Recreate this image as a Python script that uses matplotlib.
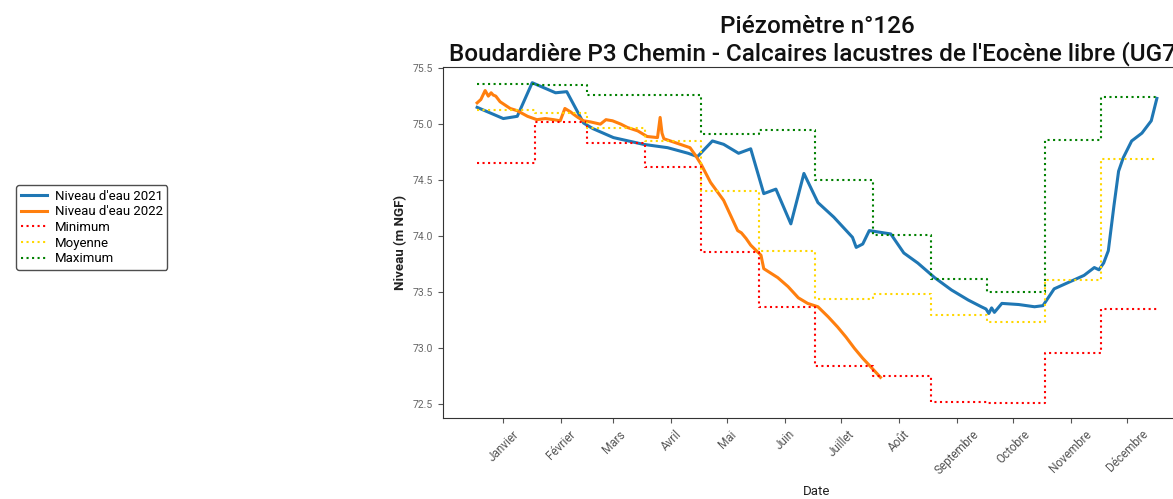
import numpy as np
import pandas as pd
import matplotlib
matplotlib.use("Agg")
import matplotlib.pyplot as plt

# ---------------- data ----------------
months = ["Janvier", "Février", "Mars", "Avril", "Mai", "Juin", "Juillet",
          "Août", "Septembre", "Octobre", "Novembre", "Décembre"]

# 2021 water level (day of year, value)
days_2021 = [0, 14, 21.5, 29.5, 42, 48, 57, 62, 73, 89, 102, 113, 118, 126, 132,
             140, 146.5, 153.5, 160, 168, 175, 182.5, 191, 201, 203, 206.5, 210,
             221.5, 228.5, 236, 245, 254, 263, 270, 272.5, 274, 275.5, 277, 281,
             290, 298.5, 303, 309, 317, 325, 330.5, 333, 335.5, 338, 341, 343.5,
             346, 350.5, 356, 361, 364]
level_2021 = [75.15, 75.05, 75.07, 75.37, 75.28, 75.29, 75.01, 74.96, 74.88,
              74.82, 74.79, 74.74, 74.71, 74.85, 74.82, 74.74, 74.78, 74.38,
              74.42, 74.11, 74.56, 74.30, 74.17, 73.99, 73.90, 73.93, 74.05,
              74.02, 73.85, 73.76, 73.63, 73.52, 73.43, 73.37, 73.35, 73.31,
              73.36, 73.32, 73.40, 73.39, 73.37, 73.38, 73.53, 73.59, 73.65,
              73.72, 73.70, 73.76, 73.87, 74.27, 74.58, 74.70, 74.85, 74.92,
              75.03, 75.23]

# 2022 water level (day of year, value)
days_2022 = [0, 2, 4.3, 6, 7.5, 8.6, 10, 12.3, 15, 17.7, 21.5, 27, 32, 36.5, 41,
             44.5, 47, 50, 51.5, 54, 57, 60.7, 66, 69, 72.5, 77, 80.5, 86, 91,
             96.6, 98, 99, 100, 107, 114, 117, 120, 125, 132, 139.5, 141.5, 144,
             146.5, 152, 153.5, 161, 166.5, 172, 177, 182.5, 188, 193, 197.5,
             202, 206.5, 211, 216]
level_2022 = [75.19, 75.22, 75.30, 75.25, 75.28, 75.26, 75.25, 75.20, 75.17,
              75.14, 75.12, 75.07, 75.04, 75.05, 75.04, 75.03, 75.14, 75.11,
              75.09, 75.06, 75.03, 75.02, 75.00, 75.04, 75.03, 75.00, 74.97,
              74.94, 74.89, 74.88, 75.06, 74.92, 74.87, 74.83, 74.79, 74.72,
              74.64, 74.48, 74.32, 74.05, 74.03, 73.98, 73.92, 73.83, 73.71,
              73.63, 73.55, 73.45, 73.40, 73.37, 73.28, 73.19, 73.10, 73.00,
              72.91, 72.83, 72.74]

# monthly statistics
minimum = [74.65, 75.02, 74.83, 74.62, 73.86, 73.37, 72.84, 72.75, 72.52, 72.51, 72.96, 73.35]
moyenne = [75.13, 75.10, 74.97, 74.85, 74.40, 73.87, 73.44, 73.48, 73.30, 73.23, 73.61, 74.69]
maximum = [75.36, 75.35, 75.26, 75.26, 74.91, 74.95, 74.50, 74.01, 73.62, 73.50, 74.86, 75.24]

# ---------------- plotting ----------------
plt.rcParams['font.family'] = ['Roboto', 'DejaVu Sans']

year = 2022
start = pd.Timestamp(year, 1, 1)
x21 = start + pd.to_timedelta(days_2021, unit="D")
x22 = start + pd.to_timedelta(days_2022, unit="D")
step_x = [pd.Timestamp(year, m, 1) for m in range(1, 13)] + [pd.Timestamp(year, 12, 31)]

def ext(v):
    return list(v) + [v[-1]]

fig = plt.figure(figsize=(11.73, 4.99), dpi=100)
ax = fig.add_axes([0.3777, 0.1623, 0.6376, 0.7034])

ax.plot(x21, level_2021, color="#1f77b4", lw=2.2, label="Niveau d'eau 2021")
ax.plot(x22, level_2022, color="#ff7f0e", lw=2.2, label="Niveau d'eau 2022")
ax.plot(step_x, ext(minimum), drawstyle="steps-post", ls=":", lw=1.5,
        color="red", label="Minimum")
ax.plot(step_x, ext(moyenne), drawstyle="steps-post", ls=":", lw=1.5,
        color="gold", label="Moyenne")
ax.plot(step_x, ext(maximum), drawstyle="steps-post", ls=":", lw=1.5,
        color="green", label="Maximum")

ax.set_xlim(start - pd.Timedelta(days=18.25), pd.Timestamp(year, 12, 31) + pd.Timedelta(days=18.25))
ax.set_ylim(72.377, 75.51)
ax.set_yticks([72.5, 73.0, 73.5, 74.0, 74.5, 75.0, 75.5])
ax.set_yticklabels(["72.5", "73.0", "73.5", "74.0", "74.5", "75.0", "75.5"])

ticks = [pd.Timestamp(year, m, 15) for m in range(1, 13)]
ax.set_xticks(ticks)
ax.set_xticklabels(months, rotation=45, ha="center")
ax.tick_params(axis="x", labelsize=8.5, labelcolor="#555555", colors="#555555")
ax.tick_params(axis="y", labelsize=7.5, labelcolor="#666666", colors="#555555")

ax.set_xlabel("Date", fontsize=9.5, color="#222222", labelpad=6)
ax.set_ylabel("Niveau (m NGF)", fontsize=9.5, fontweight="bold", color="#222222")
ax.set_title("Piézomètre n°126\nBoudardière P3 Chemin - Calcaires lacustres de l'Eocène libre (UG7)",
             fontsize=17.5, fontweight="medium", color="#111111", pad=5, linespacing=1.15)

for s in ax.spines.values():
    s.set_color("#333333")

fig.legend(loc="upper left", bbox_to_anchor=(0.0136, 0.629), borderaxespad=0,
           fontsize=9.5, frameon=True, edgecolor="#222222", fancybox=True,
           borderpad=0.35, labelspacing=0.2, handlelength=2.0, handletextpad=0.6)

fig.savefig("out.png", dpi=100)
